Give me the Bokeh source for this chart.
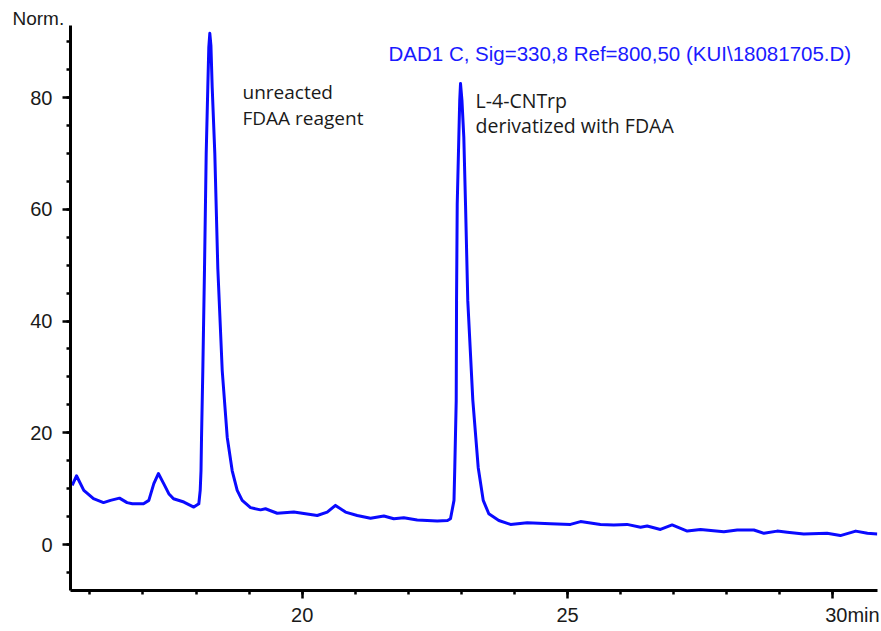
from bokeh.plotting import figure
from bokeh.models import Range1d, FixedTicker, Label, Title
from bokeh.embed import file_html
from bokeh.resources import INLINE

# ---- data ----
time_min = [
    15.666, 15.747, 15.885, 16.067, 16.256, 16.388, 16.557, 16.700, 16.800, 17.010,
    17.110, 17.204, 17.290, 17.390, 17.486, 17.575, 17.770, 17.957, 18.052, 18.078,
    18.093, 18.103, 18.127, 18.159, 18.191, 18.221, 18.240, 18.259, 18.280, 18.304,
    18.353, 18.410, 18.493, 18.587, 18.681, 18.775, 18.869, 19.026, 19.215, 19.308,
    19.529, 19.842, 20.283, 20.471, 20.627, 20.816, 21.036, 21.287, 21.538, 21.726,
    21.914, 22.167, 22.544, 22.738, 22.794, 22.860, 22.875, 22.902, 22.908, 22.921,
    22.951, 22.968, 22.983, 23.010, 23.045, 23.077, 23.120, 23.215, 23.316, 23.411,
    23.516, 23.705, 23.925, 24.240, 24.680, 25.055, 25.244, 25.620, 25.870, 26.120,
    26.375, 26.500, 26.750, 26.970, 27.255, 27.505, 27.945, 28.197, 28.510, 28.700,
    28.950, 29.140, 29.450, 29.890, 30.140, 30.430, 30.650, 30.835,
]
signal_norm = [
    10.6, 12.3, 9.7, 8.2, 7.5, 7.9, 8.3, 7.5, 7.3, 7.3,
    7.9, 10.9, 12.7, 10.9, 9.1, 8.2, 7.6, 6.7, 7.3, 9.7,
    13.2, 19.2, 31.1, 49.4, 70.0, 81.8, 89.0, 91.5, 89.3, 81.8,
    70.0, 49.4, 31.1, 19.2, 13.2, 9.7, 7.9, 6.6, 6.2, 6.4,
    5.6, 5.8, 5.2, 5.8, 7.0, 5.8, 5.2, 4.7, 5.1, 4.6,
    4.8, 4.4, 4.2, 4.3, 4.6, 7.9, 13.8, 25.8, 43.6, 61.0,
    72.9, 79.5, 82.5, 79.5, 72.9, 61.0, 43.6, 25.8, 13.8, 7.9,
    5.5, 4.3, 3.6, 3.9, 3.7, 3.6, 4.1, 3.6, 3.5, 3.6,
    3.1, 3.3, 2.7, 3.5, 2.4, 2.7, 2.3, 2.6, 2.6, 2.0,
    2.4, 2.2, 1.9, 2.0, 1.6, 2.4, 2.0, 1.9,
]

x_major_ticks = [20, 25, 30]
x_minor_ticks = list(range(16, 31))
y_major_ticks = [0, 20, 40, 60, 80]
y_minor_ticks = list(range(-5, 95, 5))

signal_title = "DAD1 C, Sig=330,8 Ref=800,50 (KUI\\18081705.D)"
peak1_lines = ["unreacted", "FDAA reagent"]
peak2_lines = ["L-4-CNTrp", "derivatized with FDAA"]
y_unit = "Norm."
x_unit = "min"

# ---- figure ----
p = figure(
    width=881, height=631,
    x_range=Range1d(15.634, 30.84), y_range=Range1d(-8.23, 92.89),
    output_backend="svg", toolbar_location=None,
    min_border_left=70, min_border_right=4, min_border_top=25, min_border_bottom=41,
)
p.grid.visible = False
p.outline_line_color = None
p.background_fill_color = "white"
p.border_fill_color = "white"

p.xaxis.ticker = FixedTicker(ticks=x_major_ticks, minor_ticks=x_minor_ticks)
p.yaxis.ticker = FixedTicker(ticks=y_major_ticks, minor_ticks=y_minor_ticks)

for ax in (p.xaxis, p.yaxis):
    ax.axis_line_width = 3
    ax.axis_line_color = "black"
    ax.major_tick_line_width = 2.5
    ax.minor_tick_line_width = 2.5
    ax.major_tick_line_color = "black"
    ax.minor_tick_line_color = "black"
    ax.major_tick_in = 0
    ax.major_tick_out = 8
    ax.minor_tick_in = 0
    ax.minor_tick_out = 4
    ax.major_label_text_font = "Liberation Sans"
    ax.major_label_text_font_size = "20px"
    ax.major_label_text_color = "#1a1a1a"
p.yaxis.major_label_standoff = 10
p.xaxis.major_label_standoff = 5
# unit "min" written after the last tick value (padding keeps "30" centred on its tick)
p.xaxis.major_label_overrides = {30: "\u00a0" * 7 + "30" + x_unit}

# y unit written above the y axis, at the top-left corner
p.add_layout(Title(text=y_unit, align="left", offset=-58, standoff=-6,
                   text_font="Liberation Sans", text_font_size="19px",
                   text_font_style="normal", text_color="#1a1a1a"), "above")

p.line(time_min, signal_norm, line_color="#0a0aff", line_width=3, line_join="round")

def add_label(x, y, text, font, size, color):
    p.add_layout(Label(x=x, y=y, text=text, text_font=font, text_font_size=size,
                       text_color=color, text_baseline="alphabetic", text_align="left"))

add_label(21.626, 87.8, signal_title, "Liberation Sans", "20.5px", "#1a1aff")
add_label(18.875, 80.9, peak1_lines[0], "Open Sans", "19px", "#1a1a1a")
add_label(18.875, 76.4, peak1_lines[1], "Open Sans", "19px", "#1a1a1a")
add_label(23.266, 79.46, peak2_lines[0], "Open Sans", "19.5px", "#1a1a1a")
add_label(23.266, 74.99, peak2_lines[1], "Open Sans", "19.5px", "#1a1a1a")

open("out.html", "w").write(file_html(p, INLINE))
